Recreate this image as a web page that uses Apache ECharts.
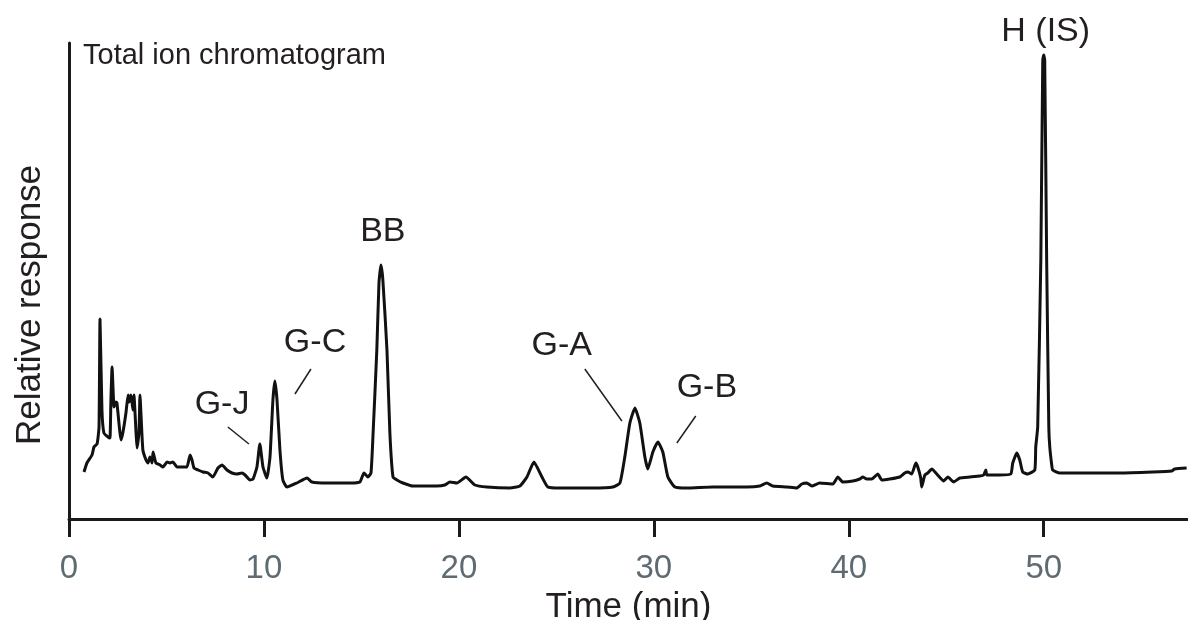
<!DOCTYPE html>
<html>
<head>
<meta charset="utf-8">
<title>Total ion chromatogram</title>
<script src="https://cdn.jsdelivr.net/npm/echarts@6/dist/echarts.min.js"></script>
<style>
  html, body { margin: 0; padding: 0; background: #fff; }
  #chart { width: 1188px; height: 620px; }
</style>
</head>
<body>
<div id="chart"></div>
<script>
// retention time (min) and detector response
const timeMin = [
  0.77, 0.92, 1.18, 1.28, 1.44, 1.54, 1.59, 1.69, 1.79, 2.00, 2.10, 2.15, 2.21, 2.31, 2.41, 2.46,
  2.67, 2.77, 2.92, 3.03, 3.08, 3.18, 3.28, 3.33, 3.44, 3.49, 3.59, 3.64, 3.69, 3.79,
  3.95, 4.05, 4.15, 4.26, 4.31, 4.46, 4.67, 4.82, 5.03, 5.18, 5.33, 5.54, 5.79, 6.05,
  6.21, 6.31, 6.41, 6.62, 6.87, 7.13, 7.38, 7.64, 7.85, 8.10, 8.36, 8.62, 8.87, 9.03, 9.28, 9.44,
  9.64, 9.79, 9.95, 10.15, 10.31, 10.46, 10.56, 10.67, 10.82, 10.97, 11.18,
  11.69, 12.21, 12.46, 13.23, 14.41, 14.92, 15.13, 15.33, 15.49,
  15.59, 15.79, 15.90, 16.00, 16.10, 16.31, 16.46, 16.62, 16.82, 17.13, 17.64,
  18.87, 19.28, 19.54, 19.90, 20.36, 20.82, 21.44, 22.62, 23.13, 23.49, 23.85, 24.26, 24.56, 25.18, 26.87, 27.90,
  28.26, 28.51, 28.77, 29.03, 29.28, 29.54, 29.69, 29.95, 30.21, 30.46, 30.72, 31.08, 31.69,
  33.03, 34.77, 35.44, 35.79, 36.10, 36.82, 37.33, 37.59, 37.85, 38.10, 38.51,
  39.18, 39.44, 39.69, 40.21, 40.56, 40.72, 40.92, 41.18, 41.49, 41.69, 42.10, 42.62, 42.87, 43.03,
  43.23, 43.44, 43.54, 43.69, 43.74, 43.90, 44.05, 44.26, 44.51, 44.87, 45.08, 45.38, 45.69, 46.21, 46.72, 46.92, 47.03, 47.08,
  47.74, 48.31, 48.41, 48.62, 48.77, 48.92, 49.18, 49.54,
  49.59, 49.69, 49.85, 49.95, 50.00, 50.05, 50.15, 50.26, 50.31, 50.41, 50.46,
  50.82, 52.21, 53.90, 55.59, 56.56, 56.72, 57.33
]
const response = [
  47, 56, 64, 72, 75, 92, 200, 109, 86, 82, 81, 119, 152, 112, 117, 116,
  79, 87, 106, 124, 117, 124, 109, 124, 86, 71, 86, 124, 106, 69,
  59, 56, 62, 56, 67, 56, 54, 52, 57, 56, 57, 52, 52, 52,
  64, 59, 51, 49, 47, 46, 42, 51, 54, 49, 46, 45, 46, 44, 39, 40,
  52, 75, 52, 41, 62, 119, 138, 119, 69, 39, 32,
  36, 41, 37, 36, 36, 37, 46, 42, 46,
  82, 169, 236, 254, 239, 169, 86, 42, 39, 36, 33,
  33, 34, 37, 36, 42, 34, 32, 31, 33, 42, 57, 42, 32, 31, 31, 32,
  36, 62, 96, 111, 96, 62, 50, 67, 77, 67, 42, 32, 31,
  32, 32, 33, 36, 33, 32, 31, 35, 36, 33, 36,
  35, 42, 37, 38, 40, 42, 40, 40, 45, 39, 40, 42, 46, 47,
  45, 56, 52, 41, 32, 44, 46, 50, 45, 38, 42, 37, 41, 42, 43, 44, 49, 44,
  44, 45, 56, 66, 59, 47, 45, 49,
  72, 92, 259, 459, 464, 459, 259, 92, 72, 54, 49,
  46, 46, 46, 47, 48, 50, 51
]
const xTicks = [0, 10, 20, 30, 40, 50]

// peak names, where their text sits and their leader lines (in time / response units)
const peakNames = ['G-J', 'G-C', 'BB', 'G-A', 'G-B', 'H (IS)']
const peakTextAt = [[7.85, 114], [12.62, 176], [16.10, 287], [25.28, 173], [32.72, 131], [50.10, 487]]
const leaderFrom = [[8.15, 92], [12.41, 150], null, [26.46, 150], [32.15, 103], null]
const leaderTo = [[9.23, 75], [11.59, 125], null, [28.36, 98], [31.18, 76], null]

const font = '"Liberation Sans", Arial, Helvetica, sans-serif'
const ink = '#231f20'

const chart = echarts.init(document.getElementById('chart'))

chart.setOption({
  animation: false,
  grid: { left: 69, right: 0, top: 43, bottom: 101, outerBoundsMode: 'none', containLabel: false },
  xAxis: {
    type: 'value',
    min: 0,
    max: 57.4,
    name: 'Time (min)',
    nameLocation: 'middle',
    nameGap: 65,
    nameTextStyle: { fontFamily: font, fontSize: 35, color: ink },
    axisLine: { lineStyle: { color: '#1a1a1a', width: 3 } },
    axisTick: { length: 18, lineStyle: { color: '#1a1a1a', width: 3 }, customValues: xTicks },
    axisLabel: { fontFamily: font, fontSize: 33, color: '#5e6b73', margin: 33, customValues: xTicks },
    splitLine: { show: false }
  },
  yAxis: {
    type: 'value',
    min: 0,
    max: 476,
    axisLine: { show: true, lineStyle: { color: '#1a1a1a', width: 3 } },
    axisTick: { show: false },
    axisLabel: { show: false },
    splitLine: { show: false }
  },
  series: [{
    type: 'line',
    data: timeMin.map((t, i) => [t, response[i]]),
    showSymbol: false,
    smooth: 0.15,
    lineStyle: { color: '#111', width: 3 }
  }]
})

// annotations: placed through the grid's own scale
const px = p => chart.convertToPixel({ gridIndex: 0 }, p)
const graphics = [
  {
    type: 'text', left: 83, top: 41,
    style: { text: 'Total ion chromatogram', fontFamily: font, fontSize: 29, fill: ink }
  },
  {
    type: 'text', x: 30, y: 305, rotation: Math.PI / 2,
    style: { text: 'Relative response', fontFamily: font, fontSize: 35, fill: ink, align: 'center', verticalAlign: 'middle' }
  }
]
peakNames.forEach((name, i) => {
  const [x, y] = px(peakTextAt[i])
  graphics.push({
    type: 'text', x: x, y: y,
    style: { text: name, fontFamily: font, fontSize: 34, fill: ink, align: 'center', verticalAlign: 'middle' }
  })
  if (leaderFrom[i]) {
    const a = px(leaderFrom[i]), b = px(leaderTo[i])
    graphics.push({
      type: 'line',
      shape: { x1: a[0], y1: a[1], x2: b[0], y2: b[1] },
      style: { stroke: ink, lineWidth: 1.5 }
    })
  }
})
chart.setOption({ graphic: graphics })
</script>
</body>
</html>
